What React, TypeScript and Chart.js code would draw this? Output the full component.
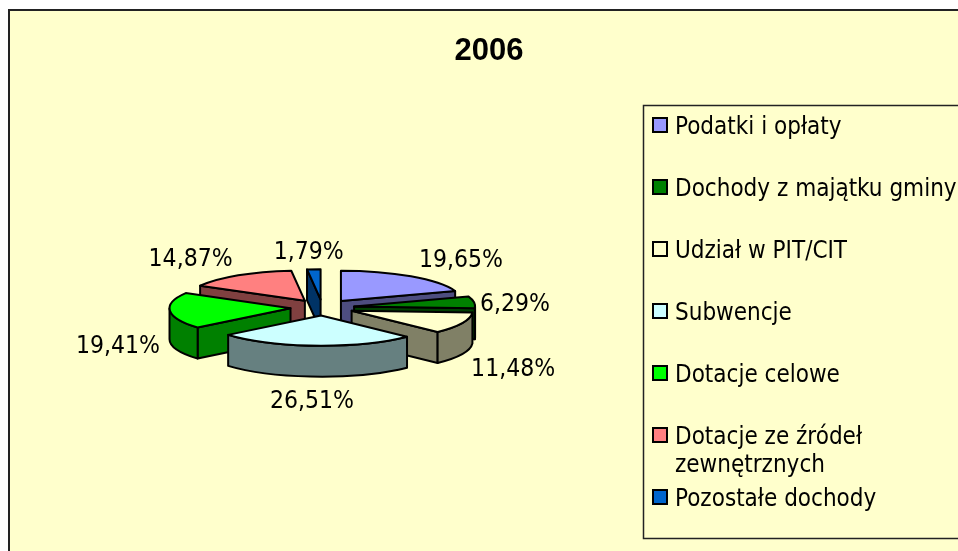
import React, { useEffect, useRef } from "react";
import { Chart, registerables } from "chart.js";

Chart.register(...registerables);

const title = "2006";
const categories = [
  "Podatki i opłaty",
  "Dochody z majątku gminy",
  "Udział w PIT/CIT",
  "Subwencje",
  "Dotacje celowe",
  "Dotacje ze źródeł zewnętrznych",
  "Pozostałe dochody",
];
const shares = [19.65, 6.29, 11.48, 26.51, 19.41, 14.87, 1.79];
const topColors = ["#9999FF", "#008000", "#FFFFCC", "#CCFFFF", "#00FF00", "#FF8080", "#0066CC"];
const wallColors = ["#4D4D80", "#004000", "#808066", "#668080", "#008000", "#804040", "#003366"];
const labelNudges = [[50, -16], [41, 2], [51, 47], [-4, 56], [-52, 36], [-48, -16], [-5, -17]];
const legendRowY = [125, 187, 249, 311, 373, 435, 497];

const SQUASH = 0.25;
const RADIUS = 121;
const EXPLODE = 32;
const DEPTH = 31;
const CX = 322.4;
const CY = 307.5;
const FONT = '"DejaVu Sans Condensed", "DejaVu Sans", sans-serif';
const PAPER = "#FFFFCC";

const pie3d = {
  id: "pie3d",
  beforeDraw(chart: any) {
    const { ctx } = chart;
    ctx.save();
    ctx.fillStyle = "#FFFFFF";
    ctx.fillRect(0, 0, chart.width, chart.height);
    ctx.fillStyle = PAPER;
    ctx.fillRect(8, 9, chart.width, chart.height);
    ctx.strokeStyle = "#222222";
    ctx.lineWidth = 2;
    ctx.beginPath();
    ctx.moveTo(9, chart.height);
    ctx.lineTo(9, 10);
    ctx.lineTo(chart.width, 10);
    ctx.stroke();
    ctx.restore();
  },
  beforeDatasetDraw(chart: any) {
    const { ctx } = chart;
    const arcs = chart.getDatasetMeta(0).data;
    const ry = RADIUS * SQUASH;
    const order = arcs
      .map((arc: any, i: number) => i)
      .sort((a: number, b: number) => {
        const mid = (k: number) => (arcs[k].startAngle + arcs[k].endAngle) / 2;
        return Math.sin(mid(a)) - Math.sin(mid(b));
      });
    ctx.save();
    ctx.lineJoin = "round";
    ctx.strokeStyle = "#000000";
    ctx.lineWidth = 2;
    for (const i of order) {
      const arc = arcs[i];
      const a0 = arc.startAngle;
      const a1 = arc.endAngle;
      const mid = (a0 + a1) / 2;
      const ax = CX + Math.cos(mid) * EXPLODE;
      const ay = CY + Math.sin(mid) * EXPLODE * SQUASH;
      const face = (a: number) => {
        const px = ax + RADIUS * Math.cos(a);
        const py = ay + ry * Math.sin(a);
        ctx.beginPath();
        ctx.moveTo(ax, ay);
        ctx.lineTo(px, py);
        ctx.lineTo(px, py + DEPTH);
        ctx.lineTo(ax, ay + DEPTH);
        ctx.closePath();
        ctx.fillStyle = wallColors[i];
        ctx.fill();
        ctx.stroke();
      };
      if (-Math.cos(a0) > 0) face(a0);
      if (Math.cos(a1) > 0) face(a1);
      const s = Math.max(a0, 0);
      const e = Math.min(a1, Math.PI);
      if (e > s) {
        ctx.beginPath();
        ctx.ellipse(ax, ay, RADIUS, ry, 0, s, e);
        ctx.ellipse(ax, ay + DEPTH, RADIUS, ry, 0, e, s, true);
        ctx.closePath();
        ctx.fillStyle = wallColors[i];
        ctx.fill();
        ctx.stroke();
      }
      // the slice top, drawn by the library's own arc element in a squashed space
      ctx.save();
      ctx.translate(ax, ay);
      ctx.scale(1, SQUASH);
      ctx.translate(-arc.x, -arc.y);
      arc.draw(ctx);
      ctx.restore();
      ctx.beginPath();
      ctx.moveTo(ax, ay);
      ctx.ellipse(ax, ay, RADIUS, ry, 0, a0, a1);
      ctx.closePath();
      ctx.stroke();
    }
    ctx.restore();
    return false;
  },
  afterDraw(chart: any) {
    const { ctx } = chart;
    const arcs = chart.getDatasetMeta(0).data;
    ctx.save();
    ctx.font = `24.5px ${FONT}`;
    ctx.fillStyle = "#000000";
    ctx.textAlign = "center";
    ctx.textBaseline = "middle";
    arcs.forEach((arc: any, i: number) => {
      const mid = (arc.startAngle + arc.endAngle) / 2;
      const reach = EXPLODE + RADIUS;
      const x = CX + Math.cos(mid) * reach + labelNudges[i][0];
      const y = CY + Math.sin(mid) * reach * SQUASH + labelNudges[i][1];
      ctx.fillText(shares[i].toFixed(2).replace(".", ",") + "%", x, y);
    });

    // legend box
    ctx.font = `24px ${FONT}`;
    ctx.strokeStyle = "#222222";
    ctx.lineWidth = 1.5;
    ctx.beginPath();
    ctx.moveTo(chart.width, 105.5);
    ctx.lineTo(643.5, 105.5);
    ctx.lineTo(643.5, 538.5);
    ctx.lineTo(chart.width, 538.5);
    ctx.stroke();
    ctx.textAlign = "left";
    ctx.textBaseline = "alphabetic";
    ctx.strokeStyle = "#000000";
    categories.forEach((name, i) => {
      const y = legendRowY[i];
      ctx.fillStyle = topColors[i];
      ctx.fillRect(653, y - 7, 14, 14);
      ctx.lineWidth = 2;
      ctx.strokeRect(653, y - 7, 14, 14);
      ctx.fillStyle = "#000000";
      const words = name.split(" ");
      const lines: string[] = [];
      let line = "";
      for (const w of words) {
        const next = line ? line + " " + w : w;
        if (ctx.measureText(next).width > 300 && line) {
          lines.push(line);
          line = w;
        } else line = next;
      }
      lines.push(line);
      lines.forEach((t, k) => ctx.fillText(t, 675, y + 9 + k * 28));
    });
    ctx.restore();
  },
};

export default function App() {
  const ref = useRef<HTMLCanvasElement>(null);
  useEffect(() => {
    const chart = new Chart(ref.current as HTMLCanvasElement, {
      type: "pie",
      data: {
        labels: categories,
        datasets: [
          {
            data: shares,
            backgroundColor: topColors,
            borderWidth: 0,
            clip: false,
          } as any,
        ],
      },
      options: {
        responsive: false,
        animation: false,
        radius: RADIUS,
        events: [],
        plugins: {
          legend: { display: false },
          tooltip: { enabled: false },
          title: {
            display: true,
            text: title,
            color: "#000000",
            font: { family: '"Liberation Sans", Arial, sans-serif', size: 31, weight: "bold" },
            padding: { top: 33, bottom: 0 },
          },
        },
      } as any,
      plugins: [pie3d],
    });
    return () => chart.destroy();
  }, []);
  return (
    <div style={{ position: "fixed", left: 0, top: 0, width: 958, height: 551, overflow: "hidden", background: "#fff" }}>
      <canvas ref={ref} width={978} height={551} style={{ display: "block" }} />
    </div>
  );
}
